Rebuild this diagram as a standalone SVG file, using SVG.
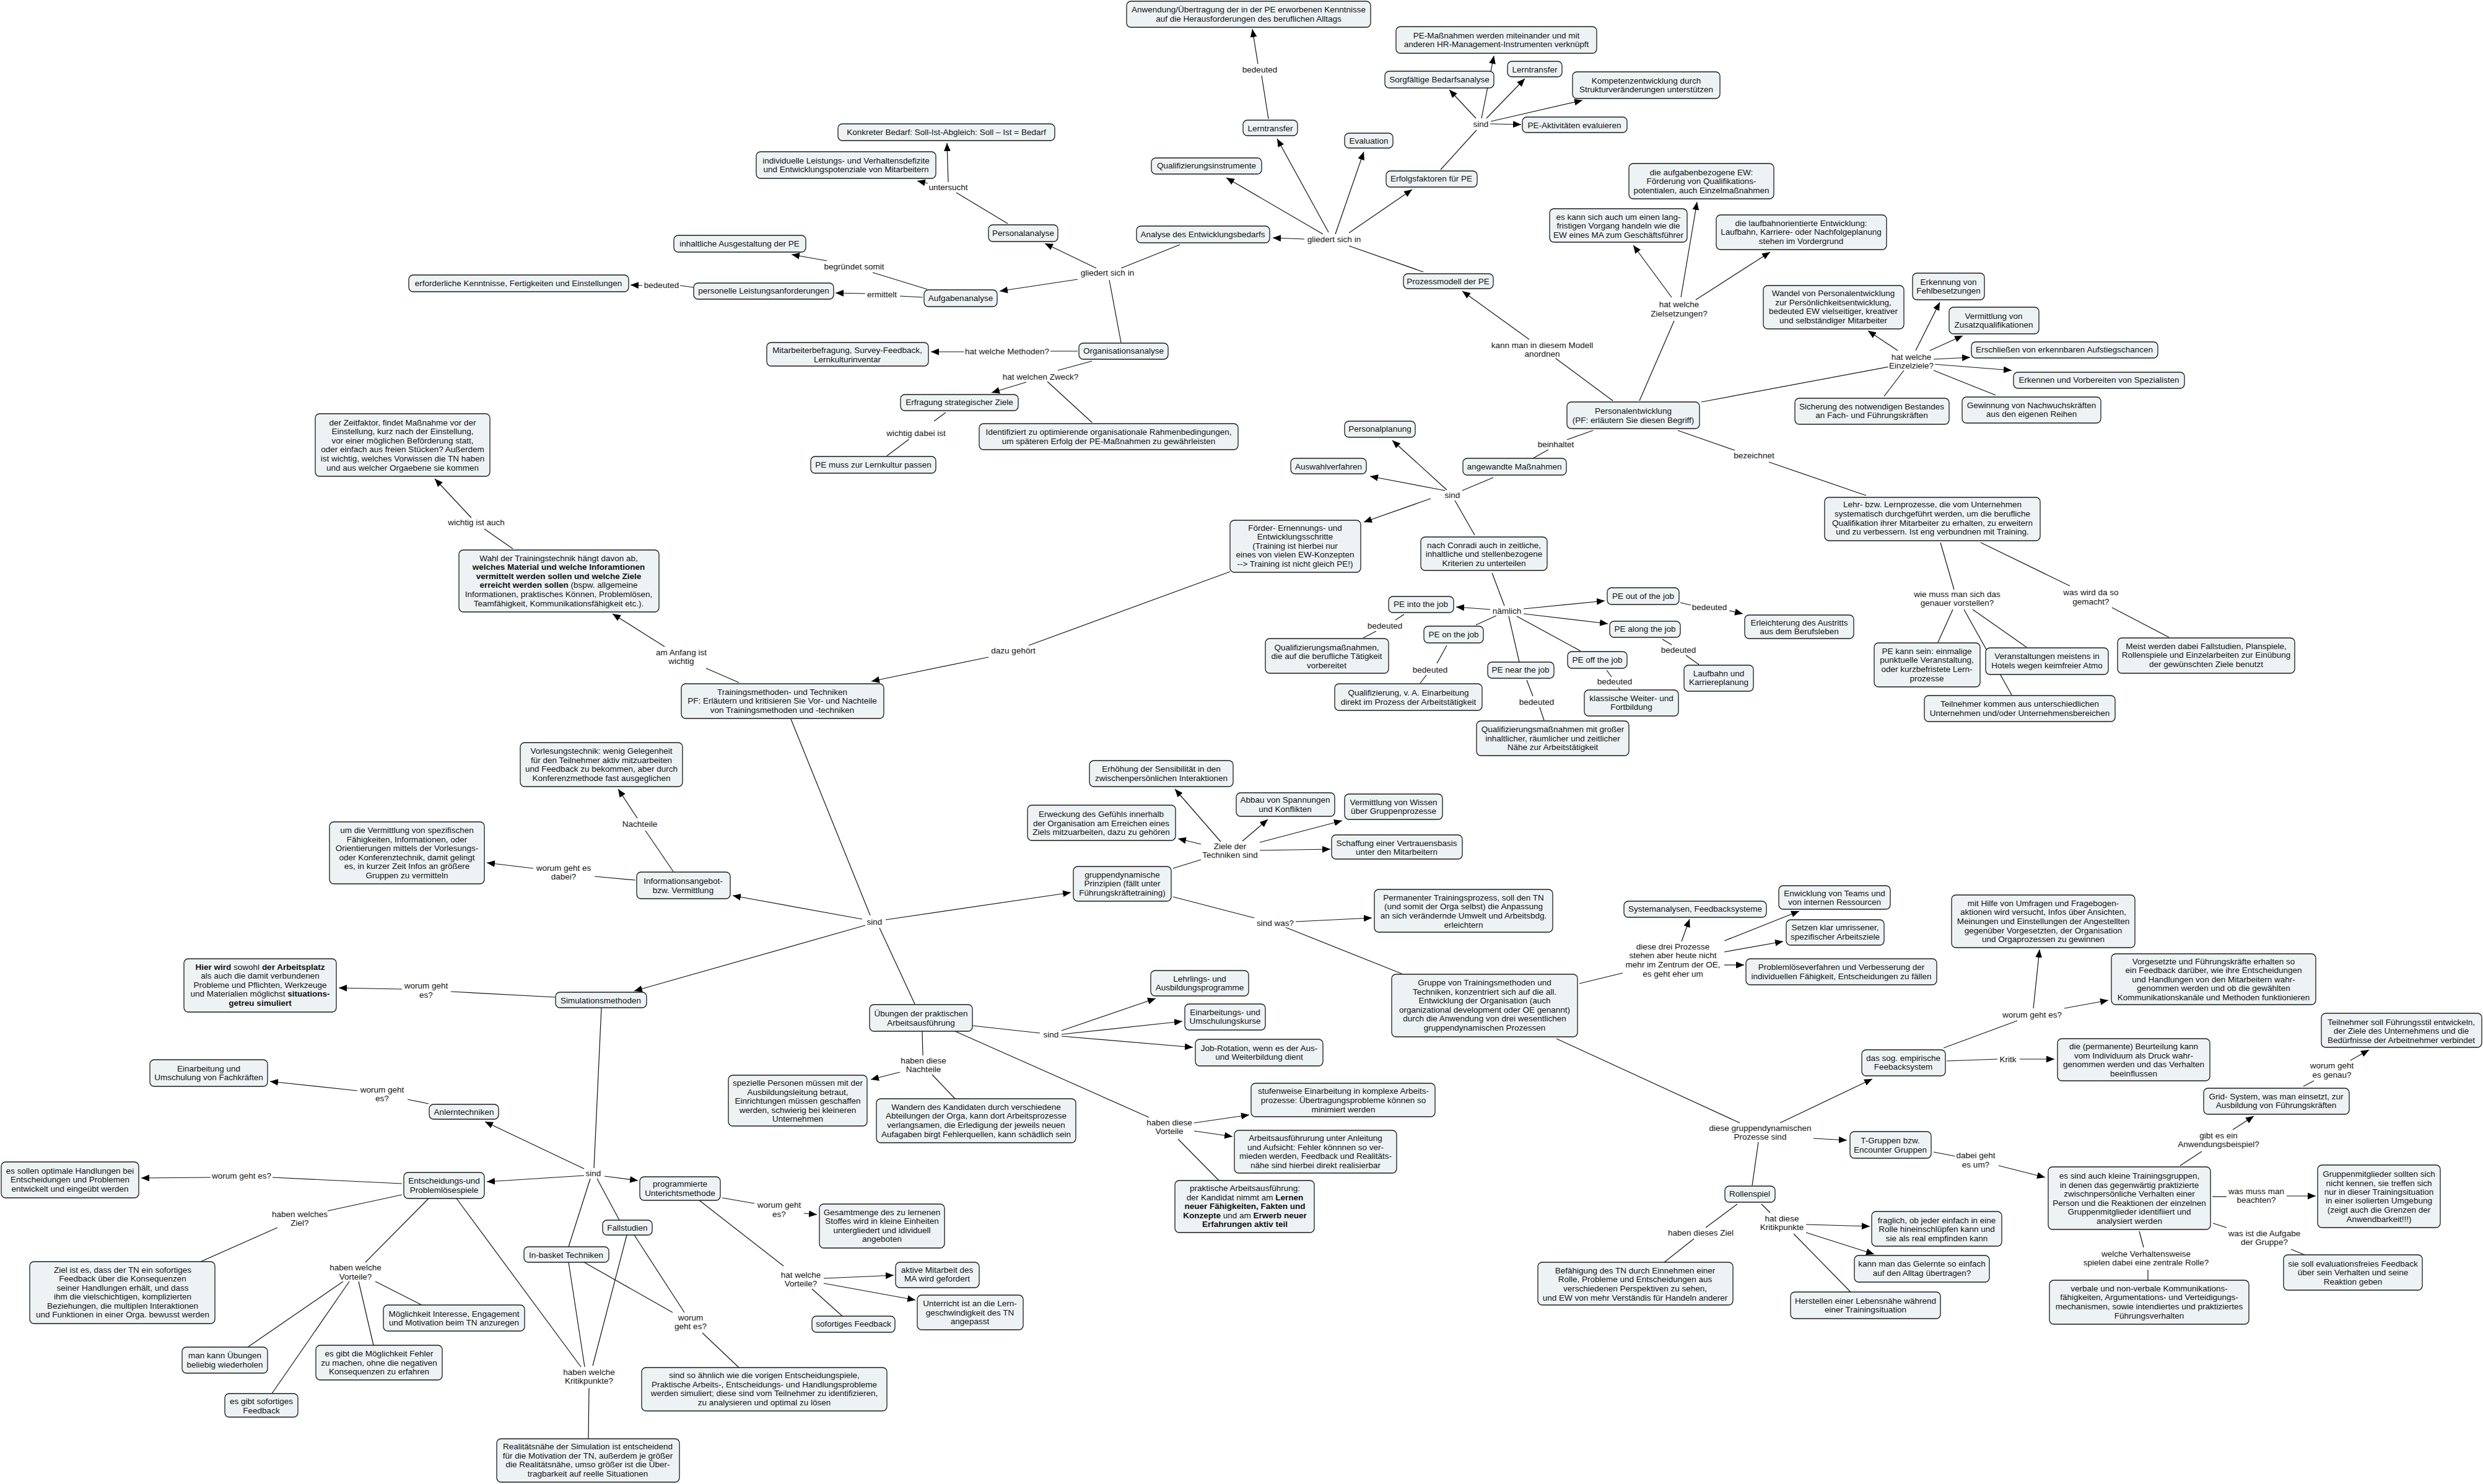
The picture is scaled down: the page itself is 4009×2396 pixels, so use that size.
<svg xmlns="http://www.w3.org/2000/svg" width="4009" height="2396" viewBox="0 0 4009 2396">
<style>
text{font-family:"Liberation Sans",Arial,sans-serif;font-size:13.5px;fill:#111;text-anchor:middle}
.n rect{fill:#edf3f5;stroke:#1a1a1a;stroke-width:1.3}
.c line{stroke:#111;stroke-width:1.2}
.c line.a{marker-end:url(#ah)}
.lb text{stroke:#fff;stroke-width:5px;paint-order:stroke;stroke-linejoin:round}
.b{font-weight:bold}
</style>
<defs>
<marker id="ah" viewBox="0 0 12 10" refX="12" refY="5" markerWidth="13" markerHeight="11" orient="auto" markerUnits="userSpaceOnUse"><path d="M0,0 L12,5 L0,10 z" fill="#000"/></marker>
</defs>
<rect width="4009" height="2396" fill="#fff"/>
<g class="c" id="connectors">
<line x1="2048" y1="192" x2="2037" y2="122"/><line class="a" x1="2031" y1="103" x2="2022" y2="47"/>
<line x1="1627" y1="361" x2="1544" y2="311"/><line class="a" x1="1531" y1="294" x2="1529" y2="231"/><line class="a" x1="1498" y1="296" x2="1481" y2="292"/>
<line x1="1497" y1="467" x2="1409" y2="440"/><line class="a" x1="1335" y1="421" x2="1278" y2="411"/>
<line x1="1490" y1="480" x2="1453" y2="478"/><line class="a" x1="1397" y1="474" x2="1349" y2="473"/>
<line x1="1120" y1="464" x2="1098" y2="461"/><line class="a" x1="1037" y1="461" x2="1018" y2="460"/>
<line x1="1905" y1="395" x2="1810" y2="433"/><line class="a" x1="1770" y1="433" x2="1687" y2="393"/><line class="a" x1="1740" y1="451" x2="1614" y2="470"/><line x1="1791" y1="452" x2="1810" y2="553"/>
<line x1="1740" y1="567" x2="1696" y2="567"/><line class="a" x1="1557" y1="568" x2="1503" y2="568"/>
<line x1="1763" y1="583" x2="1708" y2="598"/><line class="a" x1="1657" y1="617" x2="1601" y2="634"/><line x1="1691" y1="616" x2="1763" y2="682"/>
<line x1="1527" y1="666" x2="1508" y2="680"/><line x1="1468" y1="709" x2="1432" y2="736"/>
<line x1="2326" y1="274" x2="2384" y2="210"/><line class="a" x1="2383" y1="191" x2="2340" y2="145"/><line class="a" x1="2392" y1="191" x2="2412" y2="90"/><line class="a" x1="2400" y1="191" x2="2462" y2="127"/><line class="a" x1="2407" y1="196" x2="2555" y2="162"/><line class="a" x1="2406" y1="200" x2="2456" y2="201"/>
<line class="a" x1="2106" y1="386" x2="2055" y2="384"/><line class="a" x1="2136" y1="378" x2="1980" y2="287"/><line class="a" x1="2145" y1="375" x2="2062" y2="224"/><line class="a" x1="2156" y1="378" x2="2202" y2="245"/><line class="a" x1="2178" y1="376" x2="2280" y2="306"/><line x1="2298" y1="439" x2="2178" y2="397"/>
<line x1="2604" y1="647" x2="2511" y2="578"/><line class="a" x1="2469" y1="548" x2="2361" y2="470"/>
<line x1="2647" y1="647" x2="2703" y2="518"/><line class="a" x1="2699" y1="480" x2="2637" y2="396"/><line class="a" x1="2714" y1="480" x2="2740" y2="326"/><line class="a" x1="2738" y1="484" x2="2858" y2="407"/>
<line x1="2747" y1="649" x2="3051" y2="592"/><line class="a" x1="3064" y1="566" x2="3016" y2="534"/><line class="a" x1="3093" y1="566" x2="3132" y2="488"/><line class="a" x1="3116" y1="566" x2="3169" y2="542"/><line class="a" x1="3122" y1="580" x2="3181" y2="577"/><line class="a" x1="3122" y1="588" x2="3248" y2="598"/><line x1="3122" y1="598" x2="3222" y2="638"/><line x1="3074" y1="598" x2="3042" y2="640"/>
<line x1="2572" y1="695" x2="2530" y2="710"/><line x1="2500" y1="726" x2="2475" y2="740"/>
<line x1="2709" y1="695" x2="2801" y2="727"/><line x1="2856" y1="746" x2="3013" y2="800"/>
<line x1="2411" y1="771" x2="2361" y2="792"/><line class="a" x1="2333" y1="792" x2="2212" y2="769"/><line class="a" x1="2336" y1="791" x2="2248" y2="711"/><line class="a" x1="2310" y1="805" x2="2202" y2="843"/><line x1="2349" y1="808" x2="2381" y2="864"/>
<line x1="2409" y1="925" x2="2429" y2="978"/><line class="a" x1="2406" y1="984" x2="2351" y2="980"/><line class="a" x1="2460" y1="983" x2="2591" y2="970"/><line class="a" x1="2460" y1="991" x2="2596" y2="1007"/><line x1="2416" y1="994" x2="2383" y2="1009"/><line x1="2436" y1="995" x2="2453" y2="1069"/><line x1="2449" y1="995" x2="2552" y2="1051"/>
<line x1="2267" y1="992" x2="2253" y2="1001"/><line x1="2222" y1="1019" x2="2201" y2="1030"/>
<line x1="2336" y1="1042" x2="2320" y2="1071"/><line x1="2303" y1="1090" x2="2293" y2="1103"/>
<line x1="2465" y1="1098" x2="2475" y2="1124"/><line x1="2486" y1="1142" x2="2493" y2="1163"/>
<line x1="2594" y1="1082" x2="2602" y2="1093"/><line x1="2613" y1="1110" x2="2616" y2="1114"/>
<line x1="2684" y1="1032" x2="2699" y2="1041"/><line x1="2722" y1="1058" x2="2743" y2="1073"/>
<line x1="2713" y1="973" x2="2730" y2="977"/><line class="a" x1="2792" y1="986" x2="2814" y2="991"/>
<line x1="3133" y1="876" x2="3155" y2="952"/><line x1="3153" y1="984" x2="3129" y2="1037"/><line x1="3171" y1="984" x2="3248" y2="1122"/><line x1="3185" y1="984" x2="3272" y2="1045"/>
<line x1="3198" y1="876" x2="3342" y2="946"/><line x1="3410" y1="981" x2="3502" y2="1029"/>
<line x1="828" y1="886" x2="782" y2="854"/><line class="a" x1="761" y1="836" x2="702" y2="773"/>
<line x1="1193" y1="1102" x2="1140" y2="1079"/><line class="a" x1="1073" y1="1044" x2="989" y2="991"/>
<line x1="1986" y1="923" x2="1661" y2="1042"/><line class="a" x1="1596" y1="1061" x2="1407" y2="1100"/>
<line x1="1087" y1="1407" x2="1042" y2="1341"/><line class="a" x1="1029" y1="1321" x2="998" y2="1274"/>
<line x1="1026" y1="1421" x2="960" y2="1415"/><line class="a" x1="861" y1="1402" x2="786" y2="1393"/>
<line x1="1277" y1="1161" x2="1405" y2="1478"/><line class="a" x1="1392" y1="1484" x2="1183" y2="1446"/><line class="a" x1="1430" y1="1485" x2="1729" y2="1441"/><line class="a" x1="1397" y1="1494" x2="1024" y2="1600"/><line x1="1420" y1="1498" x2="1477" y2="1621"/>
<line x1="1894" y1="1402" x2="1939" y2="1388"/><line class="a" x1="1939" y1="1363" x2="1902" y2="1354"/><line class="a" x1="1971" y1="1359" x2="1897" y2="1274"/><line class="a" x1="2006" y1="1358" x2="2047" y2="1323"/><line class="a" x1="2034" y1="1360" x2="2167" y2="1325"/><line class="a" x1="2034" y1="1373" x2="2148" y2="1371"/>
<line x1="1894" y1="1448" x2="2025" y2="1482"/><line class="a" x1="2092" y1="1488" x2="2215" y2="1482"/><line x1="2075" y1="1497" x2="2263" y2="1572"/>
<line x1="2550" y1="1588" x2="2620" y2="1571"/><line class="a" x1="2715" y1="1520" x2="2728" y2="1484"/><line class="a" x1="2784" y1="1519" x2="2905" y2="1471"/><line class="a" x1="2784" y1="1537" x2="2879" y2="1520"/><line class="a" x1="2784" y1="1558" x2="2816" y2="1558"/>
<line x1="2513" y1="1677" x2="2809" y2="1813"/><line class="a" x1="2874" y1="1813" x2="3023" y2="1742"/><line class="a" x1="2928" y1="1838" x2="2982" y2="1841"/><line x1="2839" y1="1844" x2="2829" y2="1914"/>
<line x1="3138" y1="1692" x2="3257" y2="1648"/><line class="a" x1="3283" y1="1628" x2="3293" y2="1533"/><line class="a" x1="3333" y1="1628" x2="3404" y2="1615"/>
<line x1="3143" y1="1713" x2="3225" y2="1710"/><line class="a" x1="3261" y1="1710" x2="3317" y2="1710"/>
<line x1="3122" y1="1860" x2="3158" y2="1867"/><line class="a" x1="3227" y1="1882" x2="3302" y2="1901"/>
<line x1="3520" y1="1882" x2="3555" y2="1859"/><line class="a" x1="3605" y1="1824" x2="3639" y2="1802"/>
<line x1="3719" y1="1754" x2="3736" y2="1745"/><line class="a" x1="3795" y1="1712" x2="3825" y2="1695"/>
<line x1="3572" y1="1932" x2="3595" y2="1932"/><line class="a" x1="3692" y1="1931" x2="3739" y2="1931"/>
<line x1="3573" y1="1975" x2="3595" y2="1982"/><line x1="3699" y1="2017" x2="3721" y2="2026"/>
<line x1="3454" y1="1988" x2="3461" y2="2014"/><line x1="3468" y1="2050" x2="3468" y2="2067"/>
<line x1="2805" y1="1944" x2="2754" y2="1982"/><line x1="2735" y1="2000" x2="2687" y2="2038"/>
<line x1="2844" y1="1944" x2="2858" y2="1958"/><line class="a" x1="2916" y1="1977" x2="3019" y2="1980"/><line class="a" x1="2916" y1="1990" x2="3026" y2="2025"/><line x1="2896" y1="1992" x2="2988" y2="2086"/>
<line x1="896" y1="1610" x2="728" y2="1601"/><line class="a" x1="649" y1="1597" x2="547" y2="1595"/>
<line x1="692" y1="1782" x2="658" y2="1775"/><line class="a" x1="577" y1="1761" x2="436" y2="1746"/>
<line x1="971" y1="1627" x2="959" y2="1886"/><line class="a" x1="943" y1="1887" x2="783" y2="1811"/><line class="a" x1="943" y1="1898" x2="786" y2="1908"/><line class="a" x1="976" y1="1899" x2="1030" y2="1906"/><line x1="953" y1="1903" x2="918" y2="2013"/><line x1="964" y1="1903" x2="1000" y2="1970"/>
<line x1="649" y1="1911" x2="440" y2="1901"/><line class="a" x1="340" y1="1901" x2="228" y2="1902"/>
<line x1="649" y1="1929" x2="529" y2="1955"/><line x1="448" y1="1982" x2="324" y2="2037"/>
<line x1="692" y1="1935" x2="590" y2="2038"/><line x1="606" y1="2069" x2="681" y2="2107"/><line x1="554" y1="2069" x2="400" y2="2175"/><line x1="564" y1="2069" x2="439" y2="2250"/><line x1="579" y1="2069" x2="603" y2="2172"/>
<line x1="737" y1="1935" x2="938" y2="2207"/><line x1="918" y1="2038" x2="944" y2="2207"/><line x1="1012" y1="1994" x2="957" y2="2205"/><line x1="951" y1="2241" x2="950" y2="2323"/>
<line x1="943" y1="2038" x2="1086" y2="2119"/><line x1="1024" y1="1994" x2="1105" y2="2119"/><line x1="1134" y1="2152" x2="1193" y2="2208"/>
<line x1="1166" y1="1934" x2="1218" y2="1943"/><line class="a" x1="1298" y1="1959" x2="1319" y2="1961"/>
<line x1="1129" y1="1938" x2="1265" y2="2044"/><line class="a" x1="1330" y1="2064" x2="1443" y2="2059"/><line class="a" x1="1330" y1="2072" x2="1478" y2="2099"/><line x1="1311" y1="2081" x2="1360" y2="2125"/>
<line x1="1570" y1="1656" x2="1679" y2="1668"/><line class="a" x1="1714" y1="1664" x2="1866" y2="1612"/><line class="a" x1="1714" y1="1670" x2="1909" y2="1649"/><line class="a" x1="1714" y1="1673" x2="1926" y2="1691"/>
<line x1="1489" y1="1665" x2="1490" y2="1704"/><line class="a" x1="1453" y1="1731" x2="1406" y2="1743"/><line x1="1505" y1="1735" x2="1542" y2="1774"/>
<line x1="1542" y1="1665" x2="1855" y2="1804"/><line class="a" x1="1928" y1="1813" x2="2017" y2="1800"/><line class="a" x1="1928" y1="1826" x2="1990" y2="1835"/><line x1="1902" y1="1839" x2="1968" y2="1906"/>
</g>
<g class="lb" id="labels">
<text x="2034" y="117">bedeuted</text>
<text x="1531" y="307">untersucht</text>
<text x="1379" y="435">begründet somit</text>
<text x="1424" y="480">ermittelt</text>
<text x="1068" y="465">bedeuted</text>
<text x="1788" y="445">gliedert sich in</text>
<text x="2154" y="391">gliedert sich in</text>
<text x="1626" y="572">hat welche Methoden?</text>
<text x="1680" y="613">hat welchen Zweck?</text>
<text x="1479" y="704">wichtig dabei ist</text>
<text x="2391" y="205">sind</text>
<text x="2490"><tspan x="2490" y="562">kann man in diesem Modell</tspan><tspan x="2490" y="576">anordnen</tspan></text>
<text><tspan x="2711" y="496">hat welche</tspan><tspan x="2711" y="511">Zielsetzungen?</tspan></text>
<text><tspan x="3086" y="581">hat welche</tspan><tspan x="3086" y="595">Einzelziele?</tspan></text>
<text x="2512" y="722">beinhaltet</text>
<text x="2832" y="740">bezeichnet</text>
<text x="2345" y="804">sind</text>
<text x="2433" y="991">nämlich</text>
<text x="2236" y="1015">bedeuted</text>
<text x="2309" y="1086">bedeuted</text>
<text x="2481" y="1138">bedeuted</text>
<text x="2607" y="1105">bedeuted</text>
<text x="2710" y="1054">bedeuted</text>
<text x="2760" y="985">bedeuted</text>
<text><tspan x="3160" y="964">wie muss man sich das</tspan><tspan x="3160" y="978">genauer vorstellen?</tspan></text>
<text><tspan x="3376" y="961">was wird da so</tspan><tspan x="3376" y="976">gemacht?</tspan></text>
<text x="769" y="848">wichtig ist auch</text>
<text><tspan x="1100" y="1058">am Anfang ist</tspan><tspan x="1100" y="1072">wichtig</tspan></text>
<text x="1636" y="1055">dazu gehört</text>
<text x="1033" y="1335">Nachteile</text>
<text><tspan x="910" y="1406">worum geht es</tspan><tspan x="910" y="1420">dabei?</tspan></text>
<text x="1412" y="1493">sind</text>
<text><tspan x="1986" y="1371">Ziele der</tspan><tspan x="1986" y="1385">Techniken sind</tspan></text>
<text x="2059" y="1495">sind was?</text>
<text><tspan x="2701" y="1533">diese drei Prozesse</tspan><tspan x="2701" y="1547">stehen aber heute nicht</tspan><tspan x="2701" y="1562">mehr im Zentrum der OE,</tspan><tspan x="2701" y="1577">es geht eher um</tspan></text>
<text><tspan x="2842" y="1826">diese gruppendynamischen</tspan><tspan x="2842" y="1840">Prozesse sind</tspan></text>
<text x="3281" y="1643">worum geht es?</text>
<text x="3242" y="1715">Kritk</text>
<text><tspan x="3190" y="1870">dabei geht</tspan><tspan x="3190" y="1885">es um?</tspan></text>
<text><tspan x="3582" y="1838">gibt es ein</tspan><tspan x="3582" y="1852">Anwendungsbeispiel?</tspan></text>
<text><tspan x="3765" y="1725">worum geht</tspan><tspan x="3765" y="1740">es genau?</tspan></text>
<text><tspan x="3643" y="1928">was muss man</tspan><tspan x="3643" y="1942">beachten?</tspan></text>
<text><tspan x="3656" y="1996">was ist die Aufgabe</tspan><tspan x="3656" y="2010">der Gruppe?</tspan></text>
<text><tspan x="3465" y="2029">welche Verhaltensweise</tspan><tspan x="3465" y="2043">spielen dabei eine zentrale Rolle?</tspan></text>
<text x="2746" y="1995">haben dieses Ziel</text>
<text><tspan x="2877" y="1972">hat diese</tspan><tspan x="2877" y="1986">Kritikpunkte</tspan></text>
<text><tspan x="688" y="1596">worum geht</tspan><tspan x="688" y="1611">es?</tspan></text>
<text><tspan x="617" y="1764">worum geht</tspan><tspan x="617" y="1778">es?</tspan></text>
<text x="958" y="1899">sind</text>
<text x="390" y="1903">worum geht es?</text>
<text><tspan x="484" y="1965">haben welches</tspan><tspan x="484" y="1979">Ziel?</tspan></text>
<text><tspan x="574" y="2051">haben welche</tspan><tspan x="574" y="2066">Vorteile?</tspan></text>
<text><tspan x="951" y="2220">haben welche</tspan><tspan x="951" y="2234">Kritikpunkte?</tspan></text>
<text><tspan x="1115" y="2132">worum</tspan><tspan x="1115" y="2146">geht es?</tspan></text>
<text><tspan x="1258" y="1950">worum geht</tspan><tspan x="1258" y="1965">es?</tspan></text>
<text><tspan x="1293" y="2063">hat welche</tspan><tspan x="1293" y="2077">Vorteile?</tspan></text>
<text x="1697" y="1675">sind</text>
<text><tspan x="1491" y="1717">haben diese</tspan><tspan x="1491" y="1731">Nachteile</tspan></text>
<text><tspan x="1888" y="1817">haben diese</tspan><tspan x="1888" y="1831">Vorteile</tspan></text>
</g>
<g class="n" id="n-anwendung"><rect x="1819" y="2" width="394" height="42" rx="7"/><text><tspan x="2016" y="20">Anwendung/Übertragung der in der PE erworbenen Kenntnisse</tspan><tspan x="2016" y="35">auf die Herausforderungen des beruflichen Alltags</tspan></text></g>
<g class="n" id="n-lerntransfer1"><rect x="2007" y="194" width="88" height="25" rx="7"/><text x="2051" y="212">Lerntransfer</text></g>
<g class="n" id="n-pemassnahmen"><rect x="2254" y="43" width="324" height="43" rx="7"/><text><tspan x="2416" y="62">PE-Maßnahmen werden miteinander und mit</tspan><tspan x="2416" y="76">anderen HR-Management-Instrumenten verknüpft</tspan></text></g>
<g class="n" id="n-sorgfaeltig"><rect x="2236" y="115" width="176" height="27" rx="7"/><text x="2324" y="133">Sorgfältige Bedarfsanalyse</text></g>
<g class="n" id="n-lerntransfer2"><rect x="2434" y="99" width="88" height="25" rx="7"/><text x="2478" y="117">Lerntransfer</text></g>
<g class="n" id="n-kompetenz"><rect x="2539" y="116" width="238" height="43" rx="7"/><text><tspan x="2658" y="135">Kompetenzentwicklung durch</tspan><tspan x="2658" y="149">Strukturveränderungen unterstützen</tspan></text></g>
<g class="n" id="n-peakt"><rect x="2458" y="189" width="169" height="25" rx="7"/><text x="2542" y="207">PE-Aktivitäten evaluieren</text></g>
<g class="n" id="n-evaluation"><rect x="2171" y="215" width="78" height="24" rx="7"/><text x="2210" y="232">Evaluation</text></g>
<g class="n" id="n-qualinstr"><rect x="1859" y="255" width="178" height="26" rx="7"/><text x="1948" y="272">Qualifizierungsinstrumente</text></g>
<g class="n" id="n-erfolgsf"><rect x="2238" y="276" width="147" height="26" rx="7"/><text x="2311" y="293">Erfolgsfaktoren für PE</text></g>
<g class="n" id="n-konkret"><rect x="1353" y="200" width="350" height="27" rx="7"/><text x="1528" y="218">Konkreter Bedarf: Soll-Ist-Abgleich: Soll – Ist = Bedarf</text></g>
<g class="n" id="n-individuell"><rect x="1221" y="245" width="290" height="43" rx="7"/><text><tspan x="1366" y="264">individuelle Leistungs- und Verhaltensdefizite</tspan><tspan x="1366" y="278">und Entwicklungspotenziale von Mitarbeitern</tspan></text></g>
<g class="n" id="n-personalanalyse"><rect x="1596" y="363" width="112" height="27" rx="7"/><text x="1652" y="381">Personalanalyse</text></g>
<g class="n" id="n-analyseentw"><rect x="1835" y="365" width="215" height="27" rx="7"/><text x="1942" y="383">Analyse des Entwicklungsbedarfs</text></g>
<g class="n" id="n-inhaltlich"><rect x="1088" y="380" width="213" height="27" rx="7"/><text x="1194" y="398">inhaltliche Ausgestaltung der PE</text></g>
<g class="n" id="n-personelle"><rect x="1120" y="457" width="226" height="26" rx="7"/><text x="1233" y="474">personelle Leistungsanforderungen</text></g>
<g class="n" id="n-aufgaben"><rect x="1492" y="468" width="118" height="27" rx="7"/><text x="1551" y="486">Aufgabenanalyse</text></g>
<g class="n" id="n-erforderlich"><rect x="660" y="444" width="355" height="27" rx="7"/><text x="837" y="462">erforderliche Kenntnisse, Fertigkeiten und Einstellungen</text></g>
<g class="n" id="n-prozessmodell"><rect x="2266" y="442" width="145" height="24" rx="7"/><text x="2338" y="459">Prozessmodell der PE</text></g>
<g class="n" id="n-aufgabenbez"><rect x="2630" y="264" width="234" height="57" rx="7"/><text><tspan x="2747" y="283">die aufgabenbezogene EW:</tspan><tspan x="2747" y="297">Förderung von Qualifikations-</tspan><tspan x="2747" y="312">potentialen, auch Einzelmaßnahmen</tspan></text></g>
<g class="n" id="n-eskann"><rect x="2502" y="337" width="222" height="54" rx="7"/><text><tspan x="2613" y="355">es kann sich auch um einen lang-</tspan><tspan x="2613" y="369">fristigen Vorgang handeln wie die</tspan><tspan x="2613" y="384">EW eines MA zum Geschäftsführer</tspan></text></g>
<g class="n" id="n-laufbahnor"><rect x="2771" y="347" width="275" height="56" rx="7"/><text><tspan x="2908" y="365">die laufbahnorientierte Entwicklung:</tspan><tspan x="2908" y="379">Laufbahn, Karriere- oder Nachfolgeplanung</tspan><tspan x="2908" y="394">stehen im Vordergrund</tspan></text></g>
<g class="n" id="n-wandel"><rect x="2847" y="461" width="227" height="70" rx="7"/><text><tspan x="2960" y="478">Wandel von Personalentwicklung</tspan><tspan x="2960" y="493">zur Persönlichkeitsentwicklung,</tspan><tspan x="2960" y="507">bedeuted EW vielseitiger, kreativer</tspan><tspan x="2960" y="522">und selbständiger Mitarbeiter</tspan></text></g>
<g class="n" id="n-sicherung"><rect x="2898" y="643" width="249" height="42" rx="7"/><text><tspan x="3022" y="661">Sicherung des notwendigen Bestandes</tspan><tspan x="3022" y="675">an Fach- und Führungskräften</tspan></text></g>
<g class="n" id="n-erkennung"><rect x="3088" y="441" width="116" height="43" rx="7"/><text><tspan x="3146" y="460">Erkennung von</tspan><tspan x="3146" y="474">Fehlbesetzungen</tspan></text></g>
<g class="n" id="n-vermittlungz"><rect x="3147" y="496" width="145" height="43" rx="7"/><text><tspan x="3219" y="515">Vermittlung von</tspan><tspan x="3219" y="529">Zusatzqualifikationen</tspan></text></g>
<g class="n" id="n-erschliessen"><rect x="3183" y="552" width="301" height="26" rx="7"/><text x="3333" y="569">Erschließen von erkennbaren Aufstiegschancen</text></g>
<g class="n" id="n-erkennen"><rect x="3251" y="601" width="276" height="26" rx="7"/><text x="3389" y="618">Erkennen und Vorbereiten von Spezialisten</text></g>
<g class="n" id="n-gewinnung"><rect x="3168" y="641" width="224" height="42" rx="7"/><text><tspan x="3280" y="659">Gewinnung von Nachwuchskräften</tspan><tspan x="3280" y="673">aus den eigenen Reihen</tspan></text></g>
<g class="n" id="n-personalentw"><rect x="2530" y="649" width="214" height="43" rx="7"/><text><tspan x="2637" y="668">Personalentwicklung</tspan><tspan x="2637" y="683">(PF: erläutern Sie diesen Begriff)</tspan></text></g>
<g class="n" id="n-organisation"><rect x="1742" y="554" width="144" height="26" rx="7"/><text x="1814" y="571">Organisationsanalyse</text></g>
<g class="n" id="n-mitarbeiterbef"><rect x="1238" y="553" width="261" height="38" rx="7"/><text><tspan x="1368" y="570">Mitarbeiterbefragung, Survey-Feedback,</tspan><tspan x="1368" y="585">Lernkulturinventar</tspan></text></g>
<g class="n" id="n-erfragung"><rect x="1454" y="637" width="190" height="26" rx="7"/><text x="1549" y="654">Erfragung strategischer Ziele</text></g>
<g class="n" id="n-identifiziert"><rect x="1581" y="684" width="418" height="42" rx="7"/><text><tspan x="1790" y="702">Identifiziert zu optimierende organisationale Rahmenbedingungen,</tspan><tspan x="1790" y="717">um späteren Erfolg der PE-Maßnahmen zu gewährleisten</tspan></text></g>
<g class="n" id="n-pemuss"><rect x="1309" y="737" width="202" height="27" rx="7"/><text x="1410" y="755">PE muss zur Lernkultur passen</text></g>
<g class="n" id="n-zeitfaktor"><rect x="509" y="668" width="282" height="101" rx="7"/><text><tspan x="650" y="687">der Zeitfaktor, findet Maßnahme vor der</tspan><tspan x="650" y="701">Einstellung, kurz nach der Einstellung,</tspan><tspan x="650" y="716">vor einer möglichen Beförderung statt,</tspan><tspan x="650" y="730">oder einfach aus freien Stücken? Außerdem</tspan><tspan x="650" y="745">ist wichtig, welches Vorwissen die TN haben</tspan><tspan x="650" y="760">und aus welcher Orgaebene sie kommen</tspan></text></g>
<g class="n" id="n-personalplanung"><rect x="2171" y="680" width="114" height="26" rx="7"/><text x="2228" y="697">Personalplanung</text></g>
<g class="n" id="n-auswahl"><rect x="2084" y="740" width="122" height="25" rx="7"/><text x="2145" y="758">Auswahlverfahren</text></g>
<g class="n" id="n-angewandte"><rect x="2362" y="740" width="167" height="27" rx="7"/><text x="2445" y="758">angewandte Maßnahmen</text></g>
<g class="n" id="n-foerder"><rect x="1986" y="840" width="211" height="84" rx="7"/><text><tspan x="2091" y="857">Förder- Ernennungs- und</tspan><tspan x="2091" y="871">Entwicklungsschritte</tspan><tspan x="2091" y="886">(Training ist hierbei nur</tspan><tspan x="2091" y="900">eines von vielen EW-Konzepten</tspan><tspan x="2091" y="915">--&gt; Training ist nicht gleich PE!)</tspan></text></g>
<g class="n" id="n-conradi"><rect x="2294" y="867" width="204" height="54" rx="7"/><text><tspan x="2396" y="885">nach Conradi auch in zeitliche,</tspan><tspan x="2396" y="899">inhaltliche und stellenbezogene</tspan><tspan x="2396" y="914">Kriterien zu unterteilen</tspan></text></g>
<g class="n" id="n-lehr"><rect x="2946" y="803" width="348" height="70" rx="7"/><text><tspan x="3120" y="819">Lehr- bzw. Lernprozesse, die vom Unternehmen</tspan><tspan x="3120" y="834">systematisch durchgeführt werden, um die berufliche</tspan><tspan x="3120" y="849">Qualifikation ihrer Mitarbeiter zu erhalten, zu erweitern</tspan><tspan x="3120" y="863">und zu verbessern. Ist eng verbundnen mit Training.</tspan></text></g>
<g class="n" id="n-peinto"><rect x="2242" y="963" width="105" height="26" rx="7"/><text x="2294" y="980">PE into the job</text></g>
<g class="n" id="n-peout"><rect x="2595" y="949" width="116" height="27" rx="7"/><text x="2653" y="967">PE out of the job</text></g>
<g class="n" id="n-pealong"><rect x="2599" y="1003" width="114" height="26" rx="7"/><text x="2656" y="1020">PE along the job</text></g>
<g class="n" id="n-peon"><rect x="2299" y="1011" width="96" height="27" rx="7"/><text x="2347" y="1029">PE on the job</text></g>
<g class="n" id="n-penear"><rect x="2402" y="1069" width="107" height="26" rx="7"/><text x="2455" y="1086">PE near the job</text></g>
<g class="n" id="n-peoff"><rect x="2531" y="1052" width="96" height="27" rx="7"/><text x="2579" y="1070">PE off the job</text></g>
<g class="n" id="n-qualmass1"><rect x="2043" y="1031" width="199" height="56" rx="7"/><text><tspan x="2142" y="1050">Qualifizierungsmaßnahmen,</tspan><tspan x="2142" y="1064">die auf die berufliche Tätigkeit</tspan><tspan x="2142" y="1079">vorbereitet</tspan></text></g>
<g class="n" id="n-qualifizierung"><rect x="2155" y="1104" width="238" height="43" rx="7"/><text><tspan x="2274" y="1123">Qualifizierung, v. A. Einarbeitung</tspan><tspan x="2274" y="1138">direkt im Prozess der Arbeitstätigkeit</tspan></text></g>
<g class="n" id="n-qualmass2"><rect x="2384" y="1164" width="246" height="56" rx="7"/><text><tspan x="2507" y="1182">Qualifizierungsmaßnahmen mit großer</tspan><tspan x="2507" y="1197">inhaltlicher, räumlicher und zeitlicher</tspan><tspan x="2507" y="1211">Nähe zur Arbeitstätigkeit</tspan></text></g>
<g class="n" id="n-klassische"><rect x="2558" y="1114" width="152" height="42" rx="7"/><text><tspan x="2634" y="1132">klassische Weiter- und</tspan><tspan x="2634" y="1146">Fortbildung</tspan></text></g>
<g class="n" id="n-laufbahn"><rect x="2719" y="1074" width="112" height="42" rx="7"/><text><tspan x="2775" y="1092">Laufbahn und</tspan><tspan x="2775" y="1106">Karriereplanung</tspan></text></g>
<g class="n" id="n-erleichterung"><rect x="2817" y="993" width="176" height="38" rx="7"/><text><tspan x="2905" y="1010">Erleichterung des Austritts</tspan><tspan x="2905" y="1024">aus dem Berufsleben</tspan></text></g>
<g class="n" id="n-pekann"><rect x="3026" y="1038" width="171" height="71" rx="7"/><text><tspan x="3111" y="1056">PE kann sein: einmalige</tspan><tspan x="3111" y="1070">punktuelle Veranstaltung,</tspan><tspan x="3111" y="1085">oder kurzbefristete Lern-</tspan><tspan x="3111" y="1100">prozesse</tspan></text></g>
<g class="n" id="n-veranstaltungen"><rect x="3206" y="1046" width="198" height="43" rx="7"/><text><tspan x="3305" y="1064">Veranstaltungen meistens in</tspan><tspan x="3305" y="1079">Hotels wegen keimfreier Atmo</tspan></text></g>
<g class="n" id="n-teilnehmerk"><rect x="3107" y="1123" width="308" height="42" rx="7"/><text><tspan x="3261" y="1141">Teilnehmer kommen aus unterschiedlichen</tspan><tspan x="3261" y="1156">Unternehmen und/oder Unternehmensbereichen</tspan></text></g>
<g class="n" id="n-meist"><rect x="3419" y="1030" width="286" height="57" rx="7"/><text><tspan x="3562" y="1048">Meist werden dabei Fallstudien, Planspiele,</tspan><tspan x="3562" y="1062">Rollenspiele und Einzelarbeiten zur Einübung</tspan><tspan x="3562" y="1077">der gewünschten Ziele benutzt</tspan></text></g>
<g class="n" id="n-wahl"><rect x="741" y="888" width="323" height="100" rx="7"/><text><tspan x="902" y="906">Wahl der Trainingstechnik hängt davon ab,</tspan><tspan x="902" y="920" class="b">welches Material und welche Inforamtionen</tspan><tspan x="902" y="935" class="b">vermittelt werden sollen und welche Ziele</tspan><tspan x="902" y="949"><tspan class="b">erreicht werden sollen</tspan> (bspw. allgemeine</tspan><tspan x="902" y="964">Informationen, praktisches Können, Problemlösen,</tspan><tspan x="902" y="979">Teamfähigkeit, Kommunikationsfähigkeit  etc.).</tspan></text></g>
<g class="n" id="n-trainingsm"><rect x="1100" y="1104" width="327" height="56" rx="7"/><text><tspan x="1263" y="1122">Trainingsmethoden- und Techniken</tspan><tspan x="1263" y="1136">PF: Erläutern und kritisieren Sie Vor- und Nachteile</tspan><tspan x="1263" y="1151">von Trainingsmethoden und -techniken</tspan></text></g>
<g class="n" id="n-vorlesung"><rect x="840" y="1199" width="262" height="71" rx="7"/><text><tspan x="971" y="1217">Vorlesungstechnik: wenig Gelegenheit</tspan><tspan x="971" y="1232">für den Teilnehmer aktiv mitzuarbeiten</tspan><tspan x="971" y="1246">und Feedback zu bekommen, aber durch</tspan><tspan x="971" y="1261">Konferenzmethode fast ausgeglichen</tspan></text></g>
<g class="n" id="n-umdie"><rect x="532" y="1327" width="250" height="100" rx="7"/><text><tspan x="657" y="1345">um die Vermittlung von spezifischen</tspan><tspan x="657" y="1360">Fähigkeiten, Informationen, oder</tspan><tspan x="657" y="1374">Orientierungen mittels der Vorlesungs-</tspan><tspan x="657" y="1389">oder Konferenztechnik, damit gelingt</tspan><tspan x="657" y="1403">es, in kurzer Zeit Infos an größere</tspan><tspan x="657" y="1418">Gruppen zu vermitteln</tspan></text></g>
<g class="n" id="n-infoangebot"><rect x="1028" y="1408" width="151" height="43" rx="7"/><text><tspan x="1103" y="1427">Informationsangebot-</tspan><tspan x="1103" y="1442">bzw. Vermittlung</tspan></text></g>
<g class="n" id="n-erhoehung"><rect x="1759" y="1228" width="232" height="42" rx="7"/><text><tspan x="1875" y="1246">Erhöhung der Sensibilität in den</tspan><tspan x="1875" y="1261">zwischenpersönlichen Interaktionen</tspan></text></g>
<g class="n" id="n-erweckung"><rect x="1659" y="1300" width="239" height="57" rx="7"/><text><tspan x="1778" y="1319">Erweckung des Gefühls innerhalb</tspan><tspan x="1778" y="1334">der Organisation am Erreichen eines</tspan><tspan x="1778" y="1348">Ziels mitzuarbeiten, dazu zu gehören</tspan></text></g>
<g class="n" id="n-abbau"><rect x="1996" y="1280" width="159" height="38" rx="7"/><text><tspan x="2075" y="1296">Abbau von Spannungen</tspan><tspan x="2075" y="1311">und Konflikten</tspan></text></g>
<g class="n" id="n-vermittlungw"><rect x="2171" y="1282" width="158" height="41" rx="7"/><text><tspan x="2250" y="1300">Vermittlung von Wissen</tspan><tspan x="2250" y="1314">über Gruppenprozesse</tspan></text></g>
<g class="n" id="n-schaffung"><rect x="2150" y="1348" width="211" height="39" rx="7"/><text><tspan x="2255" y="1366">Schaffung einer Vertrauensbasis</tspan><tspan x="2255" y="1380">unter den Mitarbeitern</tspan></text></g>
<g class="n" id="n-gruppendyn"><rect x="1733" y="1399" width="158" height="56" rx="7"/><text><tspan x="1812" y="1417">gruppendynamische</tspan><tspan x="1812" y="1431">Prinzipien (fällt unter</tspan><tspan x="1812" y="1446">Führungskräftetraining)</tspan></text></g>
<g class="n" id="n-permanent"><rect x="2219" y="1436" width="288" height="69" rx="7"/><text><tspan x="2363" y="1454">Permanenter Trainingsprozess, soll den TN</tspan><tspan x="2363" y="1468">(und somit der Orga selbst) die Anpassung</tspan><tspan x="2363" y="1483">an sich verändernde Umwelt und Arbeitsbdg.</tspan><tspan x="2363" y="1498">erleichtern</tspan></text></g>
<g class="n" id="n-gruppe"><rect x="2247" y="1573" width="300" height="101" rx="7"/><text><tspan x="2397" y="1591">Gruppe von Trainingsmethoden und</tspan><tspan x="2397" y="1606">Techniken, konzentriert sich auf die all.</tspan><tspan x="2397" y="1620">Entwicklung der Organisation (auch</tspan><tspan x="2397" y="1635">organizational development oder OE genannt)</tspan><tspan x="2397" y="1649">durch die  Anwendung von drei wesentlichen</tspan><tspan x="2397" y="1664">gruppendynamischen Prozessen</tspan></text></g>
<g class="n" id="n-systemanalysen"><rect x="2622" y="1455" width="230" height="26" rx="7"/><text x="2737" y="1472">Systemanalysen, Feedbacksysteme</text></g>
<g class="n" id="n-enwicklung"><rect x="2872" y="1430" width="180" height="38" rx="7"/><text><tspan x="2962" y="1447">Enwicklung von Teams und</tspan><tspan x="2962" y="1461">von internen Ressourcen</tspan></text></g>
<g class="n" id="n-setzen"><rect x="2884" y="1485" width="158" height="41" rx="7"/><text><tspan x="2963" y="1502">Setzen klar umrissener,</tspan><tspan x="2963" y="1517">spezifischer Arbeitsziele</tspan></text></g>
<g class="n" id="n-problemloese"><rect x="2819" y="1548" width="308" height="42" rx="7"/><text><tspan x="2973" y="1566">Problemlöseverfahren und Verbesserung der</tspan><tspan x="2973" y="1581">individuellen Fähigkeit, Entscheidungen zu fällen</tspan></text></g>
<g class="n" id="n-mithilfe"><rect x="3151" y="1445" width="296" height="85" rx="7"/><text><tspan x="3299" y="1463">mit Hilfe von Umfragen und Fragebogen-</tspan><tspan x="3299" y="1477">aktionen wird versucht, Infos über Ansichten,</tspan><tspan x="3299" y="1492">Meinungen und Einstellungen der Angestellten</tspan><tspan x="3299" y="1507">gegenüber Vorgesetzten, der Organisation</tspan><tspan x="3299" y="1521">und Orgaprozessen zu gewinnen</tspan></text></g>
<g class="n" id="n-vorgesetzte"><rect x="3409" y="1540" width="330" height="82" rx="7"/><text><tspan x="3574" y="1557">Vorgesetzte und Führungskräfte erhalten so</tspan><tspan x="3574" y="1571">ein Feedback darüber, wie ihre Entscheidungen</tspan><tspan x="3574" y="1586">und Handlungen von den Mitarbeitern wahr-</tspan><tspan x="3574" y="1600">genommen werden und ob die gewählten</tspan><tspan x="3574" y="1615">Kommunikationskanäle und Methoden funktionieren</tspan></text></g>
<g class="n" id="n-empirisch"><rect x="3006" y="1695" width="135" height="42" rx="7"/><text><tspan x="3073" y="1713">das sog. empirische</tspan><tspan x="3073" y="1727">Feebacksystem</tspan></text></g>
<g class="n" id="n-permanente"><rect x="3322" y="1677" width="246" height="68" rx="7"/><text><tspan x="3445" y="1694">die (permanente) Beurteilung kann</tspan><tspan x="3445" y="1709">vom Individuum als Druck wahr-</tspan><tspan x="3445" y="1723">genommen werden und das Verhalten</tspan><tspan x="3445" y="1738">beeinflussen</tspan></text></g>
<g class="n" id="n-teilnehmersoll"><rect x="3748" y="1636" width="259" height="55" rx="7"/><text><tspan x="3877" y="1655">Teilnehmer soll Führungsstil entwickeln,</tspan><tspan x="3877" y="1669">der Ziele des Unternehmens und die</tspan><tspan x="3877" y="1684">Bedürfnisse der Arbeitnehmer verbindet</tspan></text></g>
<g class="n" id="n-grid"><rect x="3558" y="1757" width="235" height="42" rx="7"/><text><tspan x="3675" y="1775">Grid- System, was man einsetzt, zur</tspan><tspan x="3675" y="1789">Ausbildung von Führungskräften</tspan></text></g>
<g class="n" id="n-tgruppen"><rect x="2987" y="1827" width="131" height="43" rx="7"/><text><tspan x="3052" y="1846">T-Gruppen bzw.</tspan><tspan x="3052" y="1861">Encounter Gruppen</tspan></text></g>
<g class="n" id="n-essind"><rect x="3307" y="1884" width="262" height="101" rx="7"/><text><tspan x="3438" y="1903">es sind auch kleine Trainingsgruppen,</tspan><tspan x="3438" y="1918">in denen das gegenwärtig praktizierte</tspan><tspan x="3438" y="1932">zwischnpersönliche Verhalten einer</tspan><tspan x="3438" y="1947">Person und die Reaktionen der einzelnen</tspan><tspan x="3438" y="1961">Gruppenmitglieder identifiiert und</tspan><tspan x="3438" y="1976">analysiert werden</tspan></text></g>
<g class="n" id="n-gruppenmitgl"><rect x="3742" y="1881" width="198" height="101" rx="7"/><text><tspan x="3841" y="1900">Gruppenmitglieder sollten sich</tspan><tspan x="3841" y="1915">nicht kennen, sie treffen sich</tspan><tspan x="3841" y="1929">nur in dieser Trainingsituation</tspan><tspan x="3841" y="1943">in einer  isolierten Umgebung</tspan><tspan x="3841" y="1958">(zeigt auch die Grenzen der</tspan><tspan x="3841" y="1973">Anwendbarkeit!!!)</tspan></text></g>
<g class="n" id="n-siesoll"><rect x="3687" y="2026" width="224" height="57" rx="7"/><text><tspan x="3799" y="2045">sie soll evaluationsfreies Feedback</tspan><tspan x="3799" y="2059">über sein Verhalten und seine</tspan><tspan x="3799" y="2074">Reaktion geben</tspan></text></g>
<g class="n" id="n-verbale"><rect x="3309" y="2067" width="322" height="71" rx="7"/><text><tspan x="3470" y="2085">verbale und non-verbale Kommunikations-</tspan><tspan x="3470" y="2099">fähigkeiten, Argumentations- und Verteidigungs-</tspan><tspan x="3470" y="2114">mechanismen, sowie intendiertes und praktiziertes</tspan><tspan x="3470" y="2129">Führungsverhalten</tspan></text></g>
<g class="n" id="n-rollenspiel"><rect x="2785" y="1915" width="81" height="26" rx="7"/><text x="2825" y="1932">Rollenspiel</text></g>
<g class="n" id="n-befaehigung"><rect x="2483" y="2038" width="315" height="69" rx="7"/><text><tspan x="2640" y="2056">Befähigung des TN durch Einnehmen einer</tspan><tspan x="2640" y="2070">Rolle, Probleme und Entscheidungen aus</tspan><tspan x="2640" y="2085">verschiedenen Perspektiven zu sehen,</tspan><tspan x="2640" y="2100">und EW von mehr Verständis für Handeln anderer</tspan></text></g>
<g class="n" id="n-fraglich"><rect x="3022" y="1956" width="210" height="56" rx="7"/><text><tspan x="3127" y="1975">fraglich, ob jeder einfach in eine</tspan><tspan x="3127" y="1989">Rolle hineinschlüpfen kann und</tspan><tspan x="3127" y="2004">sie als real empfinden kann</tspan></text></g>
<g class="n" id="n-kannman"><rect x="2994" y="2027" width="218" height="43" rx="7"/><text><tspan x="3103" y="2045">kann man das Gelernte so einfach</tspan><tspan x="3103" y="2060">auf den Alltag übertragen?</tspan></text></g>
<g class="n" id="n-herstellen"><rect x="2891" y="2086" width="242" height="43" rx="7"/><text><tspan x="3012" y="2105">Herstellen einer Lebensnähe während</tspan><tspan x="3012" y="2119">einer Trainingsituation</tspan></text></g>
<g class="n" id="n-hierwird"><rect x="297" y="1548" width="246" height="86" rx="7"/><text><tspan x="420" y="1566"><tspan class="b">Hier wird</tspan> sowohl <tspan class="b">der Arbeitsplatz</tspan></tspan><tspan x="420" y="1580">als auch die damit verbundenen</tspan><tspan x="420" y="1595">Probleme und Pflichten, Werkzeuge</tspan><tspan x="420" y="1609">und Materialien möglichst <tspan class="b">situations-</tspan></tspan><tspan x="420" y="1624" class="b">getreu simuliert</tspan></text></g>
<g class="n" id="n-simulation"><rect x="897" y="1602" width="147" height="25" rx="7"/><text x="970" y="1620">Simulationsmethoden</text></g>
<g class="n" id="n-uebungen"><rect x="1404" y="1622" width="166" height="43" rx="7"/><text><tspan x="1487" y="1641">Übungen der praktischen</tspan><tspan x="1487" y="1656">Arbeitsausführung</tspan></text></g>
<g class="n" id="n-lehrlings"><rect x="1858" y="1567" width="158" height="41" rx="7"/><text><tspan x="1937" y="1585">Lehrlings- und</tspan><tspan x="1937" y="1599">Ausbildungsprogramme</tspan></text></g>
<g class="n" id="n-einarbkurse"><rect x="1913" y="1621" width="130" height="42" rx="7"/><text><tspan x="1978" y="1639">Einarbeitungs- und</tspan><tspan x="1978" y="1653">Umschulungskurse</tspan></text></g>
<g class="n" id="n-jobrot"><rect x="1930" y="1678" width="206" height="43" rx="7"/><text><tspan x="2033" y="1697">Job-Rotation, wenn es der Aus-</tspan><tspan x="2033" y="1711">und Weiterbildung dient</tspan></text></g>
<g class="n" id="n-spezielle"><rect x="1176" y="1736" width="224" height="82" rx="7"/><text><tspan x="1288" y="1753">spezielle Personen müssen mit der</tspan><tspan x="1288" y="1768">Ausbildungsleitung betraut,</tspan><tspan x="1288" y="1782">Einrichtungen müssen geschaffen</tspan><tspan x="1288" y="1797">werden, schwierig bei kleineren</tspan><tspan x="1288" y="1811">Unternehmen</tspan></text></g>
<g class="n" id="n-wandern"><rect x="1415" y="1774" width="322" height="71" rx="7"/><text><tspan x="1576" y="1792">Wandern des Kandidaten durch verschiedene</tspan><tspan x="1576" y="1806">Abteilungen der Orga, kann dort Arbeitsprozesse</tspan><tspan x="1576" y="1821">verlangsamen, die Erledigung der jeweils neuen</tspan><tspan x="1576" y="1836">Aufagaben birgt Fehlerquellen, kann schädlich sein</tspan></text></g>
<g class="n" id="n-stufenweise"><rect x="2020" y="1749" width="297" height="54" rx="7"/><text><tspan x="2169" y="1766">stufenweise Einarbeitung in komplexe Arbeits-</tspan><tspan x="2169" y="1781">prozesse: Übertragungsprobleme können so</tspan><tspan x="2169" y="1796">minimiert werden</tspan></text></g>
<g class="n" id="n-arbeitsausf"><rect x="1993" y="1825" width="262" height="69" rx="7"/><text><tspan x="2124" y="1842">Arbeitsausführurung unter Anleitung</tspan><tspan x="2124" y="1857">und Aufsicht: Fehler könnnen so ver-</tspan><tspan x="2124" y="1871">mieden werden, Feedback und Realitäts-</tspan><tspan x="2124" y="1886">nähe sind hierbei direkt realisierbar</tspan></text></g>
<g class="n" id="n-praktische"><rect x="1897" y="1906" width="225" height="84" rx="7"/><text><tspan x="2010" y="1923">praktische Arbeitsausführung:</tspan><tspan x="2010" y="1938">der Kandidat nimmt am <tspan class="b">Lernen</tspan></tspan><tspan x="2010" y="1952" class="b">neuer Fähigkeiten, Fakten und</tspan><tspan x="2010" y="1967"><tspan class="b">Konzepte</tspan> und am <tspan class="b">Erwerb neuer</tspan></tspan><tspan x="2010" y="1981" class="b">Erfahrungen aktiv teil</tspan></text></g>
<g class="n" id="n-einarbumsch"><rect x="242" y="1711" width="190" height="43" rx="7"/><text><tspan x="337" y="1730">Einarbeitung und</tspan><tspan x="337" y="1744">Umschulung von Fachkräften</tspan></text></g>
<g class="n" id="n-anlern"><rect x="693" y="1783" width="112" height="24" rx="7"/><text x="749" y="1800">Anlerntechniken</text></g>
<g class="n" id="n-programmierte"><rect x="1033" y="1900" width="130" height="38" rx="7"/><text><tspan x="1098" y="1916">programmierte</tspan><tspan x="1098" y="1931">Unterichtsmethode</tspan></text></g>
<g class="n" id="n-gesamtmenge"><rect x="1323" y="1944" width="202" height="71" rx="7"/><text><tspan x="1424" y="1962">Gesamtmenge des zu lernenen</tspan><tspan x="1424" y="1976">Stoffes wird in kleine Einheiten</tspan><tspan x="1424" y="1991">untergliedert und idividuell</tspan><tspan x="1424" y="2005">angeboten</tspan></text></g>
<g class="n" id="n-essollen"><rect x="2" y="1876" width="222" height="58" rx="7"/><text><tspan x="113" y="1895">es sollen optimale Handlungen bei</tspan><tspan x="113" y="1909">Entscheidungen und Problemen</tspan><tspan x="113" y="1924">entwickelt und eingeübt werden</tspan></text></g>
<g class="n" id="n-entscheidungs"><rect x="652" y="1893" width="130" height="42" rx="7"/><text><tspan x="717" y="1911">Entscheidungs-und</tspan><tspan x="717" y="1926">Problemlösespiele</tspan></text></g>
<g class="n" id="n-fallstudien"><rect x="973" y="1970" width="80" height="24" rx="7"/><text x="1013" y="1987">Fallstudien</text></g>
<g class="n" id="n-inbasket"><rect x="846" y="2013" width="137" height="25" rx="7"/><text x="914" y="2031">In-basket Techniken</text></g>
<g class="n" id="n-zielistes"><rect x="48" y="2037" width="299" height="100" rx="7"/><text><tspan x="198" y="2055">Ziel ist es, dass der TN ein sofortiges</tspan><tspan x="198" y="2069">Feedback über die Konsequenzen</tspan><tspan x="198" y="2084">seiner Handlungen erhält, und dass</tspan><tspan x="198" y="2098">ihm die vielschichtigen, komplizierten</tspan><tspan x="198" y="2113">Beziehungen, die multiplen Interaktionen</tspan><tspan x="198" y="2127">und Funktionen in einer Orga. bewusst werden</tspan></text></g>
<g class="n" id="n-aktive"><rect x="1446" y="2038" width="135" height="41" rx="7"/><text><tspan x="1513" y="2055">aktive Mitarbeit des</tspan><tspan x="1513" y="2069">MA wird gefordert</tspan></text></g>
<g class="n" id="n-unterricht"><rect x="1481" y="2091" width="171" height="56" rx="7"/><text><tspan x="1566" y="2109">Unterricht ist an die Lern-</tspan><tspan x="1566" y="2124">geschwindigkeit des TN</tspan><tspan x="1566" y="2138">angepasst</tspan></text></g>
<g class="n" id="n-sofortigesfb"><rect x="1311" y="2125" width="134" height="26" rx="7"/><text x="1378" y="2142">sofortiges Feedback</text></g>
<g class="n" id="n-moeglichkeit"><rect x="619" y="2107" width="228" height="42" rx="7"/><text><tspan x="733" y="2126">Möglichkeit Interesse, Engagement</tspan><tspan x="733" y="2140">und Motivation beim TN anzuregen</tspan></text></g>
<g class="n" id="n-mankann"><rect x="294" y="2175" width="138" height="42" rx="7"/><text><tspan x="363" y="2193">man kann Übungen</tspan><tspan x="363" y="2208">beliebig wiederholen</tspan></text></g>
<g class="n" id="n-esgibtfehler"><rect x="510" y="2172" width="204" height="56" rx="7"/><text><tspan x="612" y="2190">es gibt die Möglichkeit Fehler</tspan><tspan x="612" y="2205">zu machen, ohne die negativen</tspan><tspan x="612" y="2219">Konsequenzen zu erfahren</tspan></text></g>
<g class="n" id="n-esgibtsof"><rect x="363" y="2250" width="118" height="38" rx="7"/><text><tspan x="422" y="2267">es gibt sofortiges</tspan><tspan x="422" y="2282">Feedback</tspan></text></g>
<g class="n" id="n-realitaet"><rect x="802" y="2323" width="295" height="70" rx="7"/><text><tspan x="949" y="2340">Realitätsnähe der Simulation ist entscheidend</tspan><tspan x="949" y="2355">für die Motivation der TN, außerdem je größer</tspan><tspan x="949" y="2369">die Realitätsnähe, umso größer ist die Über-</tspan><tspan x="949" y="2384">tragbarkeit auf reelle Situationen</tspan></text></g>
<g class="n" id="n-sindsoaehnlich"><rect x="1036" y="2208" width="396" height="70" rx="7"/><text><tspan x="1234" y="2225">sind so ähnlich wie die vorigen Entscheidungspiele,</tspan><tspan x="1234" y="2240">Praktische Arbeits-, Entscheidungs- und Handlungsprobleme</tspan><tspan x="1234" y="2254">werden simuliert; diese sind vom Teilnehmer zu identifizieren,</tspan><tspan x="1234" y="2269">zu analysieren und optimal zu lösen</tspan></text></g>
</svg>
